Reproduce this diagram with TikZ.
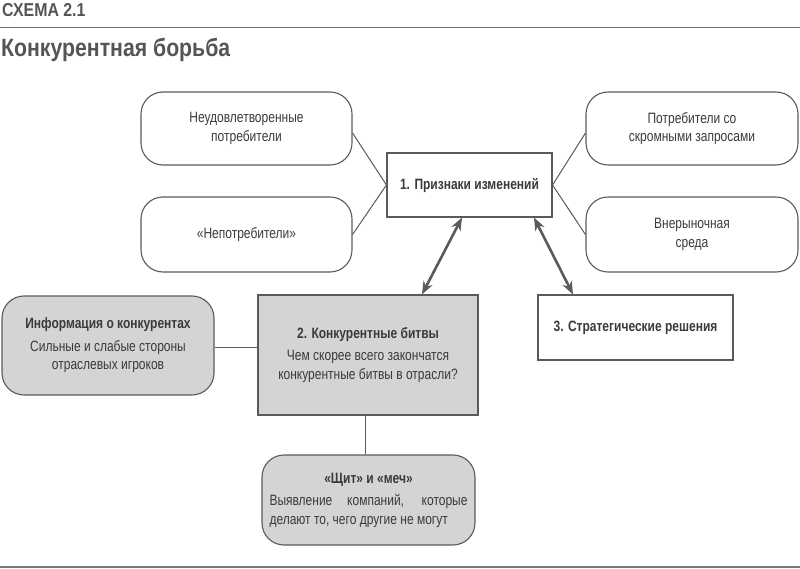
\documentclass[tikz,border=0pt]{standalone}
\usepackage{fontspec}
\setmainfont{Liberation Sans}[FakeStretch=0.8]
\newfontfamily\hfont{Liberation Sans}[FakeStretch=0.85]
\usetikzlibrary{arrows.meta}
\definecolor{ln}{HTML}{5A5A5A}
\definecolor{tx}{HTML}{3A3A3A}
\definecolor{gf}{HTML}{D4D4D4}
\definecolor{hd}{HTML}{555555}
\begin{document}
\begin{tikzpicture}[x=1pt,y=-1pt,
  every node/.style={text=tx,font=\fontsize{15}{18.5}\selectfont},
  rbox/.style={draw=ln,line width=1.1pt,rounded corners=22pt,align=center,inner sep=0pt},
  sbox/.style={draw=ln,line width=1.1pt,align=center,inner sep=0pt},
  conn/.style={draw=ln,line width=1pt},
  dbl/.style={draw=ln,line width=2.6pt,{Stealth[length=13pt,width=10pt]}-{Stealth[length=13pt,width=10pt]}}]
\useasboundingbox (0,0) rectangle (800,569);
% header
\node[anchor=base west,inner sep=0pt,text=hd,font=\hfont\fontsize{18.7}{20}\selectfont\bfseries] (hdr) at (2,17) {СХЕМА 2.1};
\coordinate (l1a) at (0,27.5);
\coordinate (l1b) at (800,27.5);
\draw[draw=hd!80,line width=1.5pt] (l1a) -- (l1b);
\node[anchor=base west,inner sep=0pt,text=hd,font=\hfont\fontsize{25}{28}\selectfont\bfseries] (ttl) at (1,57) {Конкурентная борьба};
\coordinate (l2a) at (0,567);
\coordinate (l2b) at (800,567);
\draw[draw=hd!80,line width=1.5pt] (l2a) -- (l2b);
% top cluster
\node[rbox,minimum width=211pt,minimum height=73pt] (A) at (246.5,128.5) {Неудовлетворенные\\потребители};
\node[rbox,minimum width=211pt,minimum height=75pt] (B) at (246.5,234.5) {«Непотребители»};
\node[rbox,minimum width=212pt,minimum height=73pt] (C) at (692,128.5) {Потребители со\\скромными запросами};
\node[rbox,minimum width=212pt,minimum height=75pt] (D) at (692,234.5) {Внерыночная\\среда};
\node[sbox,fill=white,minimum width=165pt,minimum height=64pt,font=\fontsize{15}{18.5}\selectfont\bfseries] (P1) at (469.5,185) {1. Признаки изменений};
\draw[conn] ([yshift=-4.5pt]A.east) -- (P1.west) -- (B.east);
\draw[conn] ([yshift=-4.5pt]C.west) -- (P1.east) -- (D.west);
% middle
\node[sbox,fill=gf,minimum width=220pt,minimum height=120pt] (P2) at (368,355) {\textbf{2. Конкурентные битвы}\\[4pt]Чем скорее всего закончатся\\конкурентные битвы в отрасли?};
\node[rbox,fill=gf,minimum width=212pt,minimum height=99pt] (I) at (108,345.5) {\textbf{Информация о конкурентах}\\[4pt]Сильные и слабые стороны\\отраслевых игроков};
\node[sbox,fill=white,minimum width=195pt,minimum height=65pt,font=\fontsize{15}{18.5}\selectfont\bfseries] (P3) at (635.5,327.5) {3. Стратегические решения};
\node[rbox,fill=gf,minimum width=213pt,minimum height=90pt] (S) at (368.5,500) {\textbf{«Щит» и «меч»}\\[4pt]\makebox[198pt][s]{Выявление компаний, которые}\\\makebox[198pt][l]{делают то, чего другие не могут}};
\draw[conn] ([yshift=-1.5pt]I.east) -- ([yshift=-1.5pt]I.east -| P2.west);
\draw[conn] ([xshift=-3pt]P2.south) -- ([xshift=-3pt]P2.south |- S.north);
\draw[dbl] ([xshift=-7.5pt]P1.south) -- ([xshift=54pt]P2.north);
\draw[dbl] ([xshift=64.5pt]P1.south) -- ([xshift=-62.5pt]P3.north);
\end{tikzpicture}
\end{document}
